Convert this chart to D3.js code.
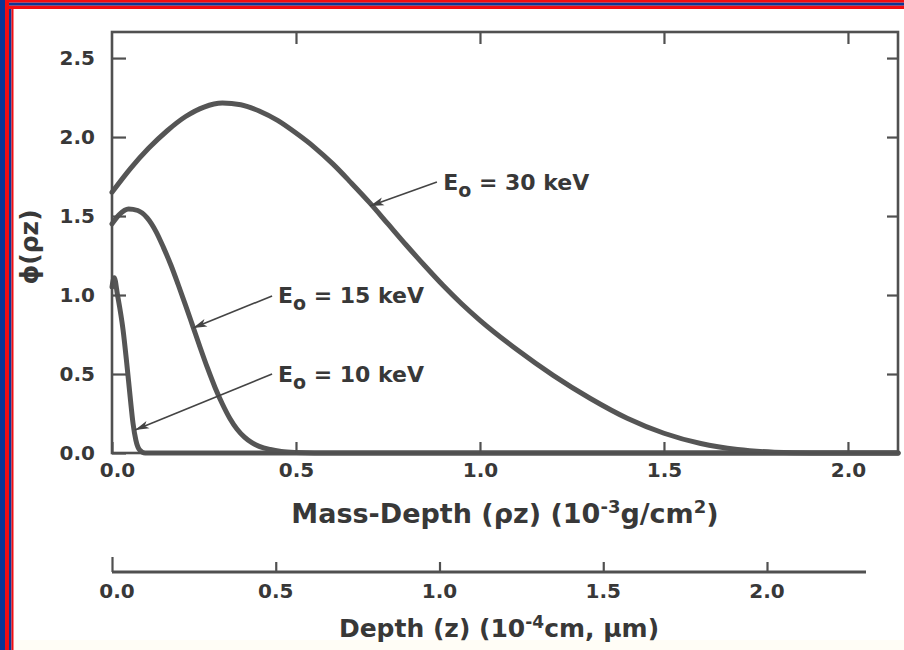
<!DOCTYPE html>
<html><head><meta charset="utf-8">
<script src="https://cdn.jsdelivr.net/npm/d3@7"></script>
<style>
html,body{margin:0;padding:0;background:#fff;}
svg{display:block;}
text{font-family:"DejaVu Sans",Arial,Helvetica,sans-serif;fill:#383838;font-weight:bold;}
</style></head>
<body>
<svg id="c" width="904" height="650"></svg>
<script>
// ---- data ----
const massDepthTicks = [0.0, 0.5, 1.0, 1.5, 2.0];
const phiTicks = [0.0, 0.5, 1.0, 1.5, 2.0, 2.5];
const depthTicks = [0.0, 0.5, 1.0, 1.5, 2.0];

const e30 = [[0,1.65],[0.05,1.80],[0.10,1.93],[0.15,2.04],[0.20,2.13],[0.25,2.19],[0.30,2.215],[0.35,2.205],[0.40,2.165],[0.45,2.105],[0.50,2.025],[0.55,1.935],[0.60,1.83],[0.65,1.71],[0.70,1.585],[0.75,1.45],[0.80,1.315],[0.85,1.185],[0.90,1.06],[0.95,0.945],[1.00,0.84],[1.10,0.655],[1.20,0.49],[1.30,0.345],[1.40,0.22],[1.50,0.125],[1.60,0.06],[1.70,0.022],[1.80,0.005],[1.90,0],[2.136,0]];
const e15 = [[0,1.45],[0.02,1.51],[0.045,1.545],[0.07,1.535],[0.095,1.49],[0.12,1.40],[0.14,1.30],[0.16,1.19],[0.18,1.065],[0.20,0.935],[0.22,0.80],[0.24,0.665],[0.26,0.535],[0.28,0.415],[0.30,0.31],[0.32,0.22],[0.34,0.15],[0.36,0.10],[0.38,0.065],[0.40,0.042],[0.43,0.022],[0.46,0.01],[0.50,0.003],[0.55,0],[2.136,0]];
const e10 = [[0,1.05],[0.006,1.11],[0.015,1.0],[0.03,0.78],[0.04,0.57],[0.05,0.34],[0.057,0.19],[0.065,0.08],[0.075,0.02],[0.09,0],[2.136,0]];

const seriesNames = ["30 keV","15 keV","10 keV"];
const seriesData = [e30, e15, e10];
// label anchor [x,y], arrow tail [x,y], arrow tip [x,y] in data units
const labelPos = [[0.90,1.665],[0.451,0.949],[0.451,0.449]];
const arrowTail = [[0.883,1.715],[0.435,0.994],[0.435,0.50]];
const arrowTip = [[0.701,1.563],[0.220,0.791],[0.0625,0.146]];

// ---- layout ----
const svg = d3.select("#c");
const L=112, R=898, T=32, B=453;
const x = d3.scaleLinear().domain([0,2.136]).range([L,R]);
const y = d3.scaleLinear().domain([0,2.665]).range([B,T]);
const zx = d3.scaleLinear().domain([0,2.0]).range([112,767]);
const ink="#505050";

// background strip
svg.append("rect").attr("x",0).attr("y",640).attr("width",904).attr("height",10).attr("fill","#fffdf6");

// frame
const blue="#0b3596", red="#f20d12";
svg.append("rect").attr("x",0).attr("y",0).attr("width",5).attr("height",650).attr("fill",blue);
svg.append("rect").attr("x",5).attr("y",0).attr("width",4).attr("height",650).attr("fill",red);
svg.append("rect").attr("x",9).attr("y",9).attr("width",2.5).attr("height",641).attr("fill",blue);
svg.append("rect").attr("x",11.5).attr("y",9).attr("width",2).attr("height",641).attr("fill",red);
svg.append("rect").attr("x",5).attr("y",0).attr("width",899).attr("height",2.7).attr("fill",red);
svg.append("rect").attr("x",9).attr("y",2.7).attr("width",895).attr("height",3).attr("fill",blue);
svg.append("rect").attr("x",9).attr("y",5.7).attr("width",895).attr("height",3.3).attr("fill",red);

// curves
const line = d3.line().x(d=>x(d[0])).y(d=>y(d[1])).curve(d3.curveMonotoneX);
seriesData.forEach(s=>{
  svg.append("path").attr("d",line(s)).attr("fill","none").attr("stroke","#555").attr("stroke-width",5).attr("stroke-linejoin","round").attr("stroke-linecap","round");
});

// plot box
svg.append("rect").attr("x",L).attr("y",T).attr("width",R-L).attr("height",B-T).attr("fill","none").attr("stroke",ink).attr("stroke-width",2.6);

// axes with inward ticks
const gB = svg.append("g").attr("transform",`translate(0,${B})`).call(d3.axisBottom(x).tickValues(massDepthTicks).tickSize(-11).tickPadding(10).tickFormat(d3.format(".1f")));
const gT = svg.append("g").attr("transform",`translate(0,${T})`).call(d3.axisTop(x).tickValues(massDepthTicks.slice(1)).tickSize(-12).tickFormat(""));
const gL = svg.append("g").attr("transform",`translate(${L},0)`).call(d3.axisLeft(y).tickValues(phiTicks).tickSize(-14).tickPadding(17).tickFormat(d3.format(".1f")));
const gR = svg.append("g").attr("transform",`translate(${R},0)`).call(d3.axisRight(y).tickValues(phiTicks.slice(1)).tickSize(-11).tickFormat(""));
[gB,gT,gL,gR].forEach(g=>{
  g.select(".domain").remove();
  g.selectAll(".tick line").attr("stroke",ink).attr("stroke-width",2.2);
  g.selectAll(".tick text").attr("fill","#383838").style("font-family","'DejaVu Sans',Arial,sans-serif").style("font-size","20px").style("font-weight","bold");
});
gB.selectAll(".tick text").attr("dx",(d)=>d===0?5:0);

// secondary depth axis
const gZ = svg.append("g").attr("transform","translate(0,572)").call(d3.axisTop(zx).tickValues(depthTicks).tickSize(10).tickFormat(""));
gZ.select(".domain").remove();
svg.append("line").attr("x1",112).attr("x2",866).attr("y1",572).attr("y2",572).attr("stroke",ink).attr("stroke-width",3);
gZ.selectAll(".tick line").attr("stroke",ink).attr("stroke-width",2.2).attr("y2",d=>d===0?-15:-10);
depthTicks.forEach(d=>{
  svg.append("text").attr("x",zx(d)+(d===0?5:0)).attr("y",598).attr("text-anchor","middle").style("font-size","20px").text(d.toFixed(1));
});

// axis titles
const t1 = svg.append("text").attr("x",505).attr("y",523).attr("text-anchor","middle").style("font-size","27px");
t1.append("tspan").text("Mass-Depth (ρz) (10");
t1.append("tspan").attr("dy",-10).style("font-size","18px").text("-3");
t1.append("tspan").attr("dy",10).text("g/cm");
t1.append("tspan").attr("dy",-10).style("font-size","18px").text("2");
t1.append("tspan").attr("dy",10).text(")");

const t2 = svg.append("text").attr("x",499).attr("y",637).attr("text-anchor","middle").style("font-size","25px");
t2.append("tspan").text("Depth (z) (10");
t2.append("tspan").attr("dy",-9).style("font-size","17px").text("-4");
t2.append("tspan").attr("dy",9).text("cm, μm)");

svg.append("text").attr("transform","translate(38,247) rotate(-90)").attr("text-anchor","middle").style("font-size","25px").text("ϕ(ρz)");

// annotations
seriesNames.forEach((nm,i)=>{
  const tx=x(arrowTail[i][0]), ty=y(arrowTail[i][1]);
  const px=x(arrowTip[i][0]), py=y(arrowTip[i][1]);
  svg.append("line").attr("x1",tx).attr("y1",ty).attr("x2",px).attr("y2",py).attr("stroke","#444").attr("stroke-width",1.6);
  const ang=Math.atan2(py-ty,px-tx), len=14, hw=4;
  const bx=px-len*Math.cos(ang), by=py-len*Math.sin(ang);
  const nx=-Math.sin(ang), ny=Math.cos(ang);
  svg.append("path").attr("d",`M${px},${py}L${bx+nx*hw},${by+ny*hw}L${bx+(px-bx)*0.25},${by+(py-by)*0.25}L${bx-nx*hw},${by-ny*hw}Z`).attr("fill","#444");
  const t=svg.append("text").attr("x",x(labelPos[i][0])).attr("y",y(labelPos[i][1])).style("font-size","22px");
  t.append("tspan").text("E");
  t.append("tspan").attr("dy",7).style("font-size","19px").text("o");
  t.append("tspan").attr("dy",-7).text(" = "+nm);
});
</script>
</body></html>
